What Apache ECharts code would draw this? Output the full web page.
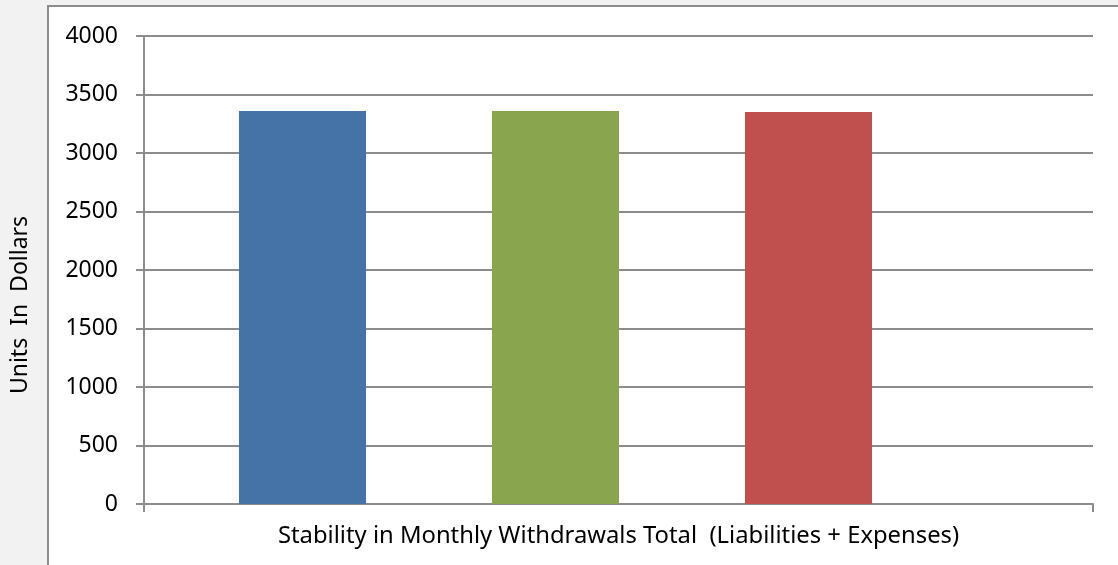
<!DOCTYPE html>
<html>
<head>
<meta charset="utf-8">
<script src="https://cdn.jsdelivr.net/npm/echarts@6/dist/echarts.min.js"></script>
<style>
  html, body { margin: 0; padding: 0; background: #f2f2f2; }
  #chart { width: 1118px; height: 565px; }
</style>
</head>
<body>
<div id="chart"></div>
<script>
var categoryName = ['Stability in Monthly Withdrawals Total  (Liabilities + Expenses)'];
var barNames = ['Series 1', 'Series 2', 'Series 3'];
var barValues = [3360, 3360, 3350];
var barColors = ['#4572a7', '#89a54e', '#c0504d'];
var yTicks = [0, 500, 1000, 1500, 2000, 2500, 3000, 3500, 4000];
var yTitle = 'Units  In  Dollars';

var font = 'Noto Sans';

var chart = echarts.init(document.getElementById('chart'));

var option = {
    backgroundColor: '#f2f2f2',
    animation: false,
    graphic: [
        {
            type: 'rect',
            z: -10,
            shape: { x: 48, y: 6, width: 1080, height: 570 },
            style: { fill: '#ffffff', stroke: '#8c8c8c', lineWidth: 2 }
        },
        {
            type: 'text',
            x: 20,
            y: 305,
            rotation: Math.PI / 2,
            style: {
                text: yTitle,
                fill: '#000',
                font: '23px "Noto Sans"',
                align: 'center',
                verticalAlign: 'middle'
            }
        }
    ],
    grid: [
        { left: 144, right: 25, top: 36, bottom: 61, outerBoundsMode: 'none' },
        { left: 176, right: 183, top: 36, bottom: 61, outerBoundsMode: 'none' }
    ],
    xAxis: [
        {
            type: 'category',
            gridIndex: 0,
            data: categoryName,
            boundaryGap: true,
            axisLine: { lineStyle: { color: '#8c8c8c', width: 2 } },
            axisTick: { show: true, length: 8, lineStyle: { color: '#8c8c8c', width: 2 } },
            axisLabel: { color: '#000', fontFamily: font, fontSize: 23.8, margin: 20 }
        },
        {
            type: 'category',
            gridIndex: 1,
            data: barNames,
            show: false
        }
    ],
    yAxis: [
        {
            type: 'value',
            gridIndex: 0,
            min: yTicks[0],
            max: yTicks[yTicks.length - 1],
            interval: 500,
            axisLine: { show: true, lineStyle: { color: '#8c8c8c', width: 2 } },
            axisTick: { show: true, length: 8, lineStyle: { color: '#8c8c8c', width: 2 } },
            axisLabel: {
                color: '#000', fontFamily: font, fontSize: 23, margin: 26,
                formatter: function (v) { return String(v); }
            },
            splitLine: { lineStyle: { color: '#8c8c8c', width: 2 } }
        },
        {
            type: 'value',
            gridIndex: 1,
            min: yTicks[0],
            max: yTicks[yTicks.length - 1],
            show: false,
            splitLine: { show: false }
        }
    ],
    series: [
        {
            type: 'bar',
            xAxisIndex: 1,
            yAxisIndex: 1,
            barWidth: 127,
            data: barValues.map(function (v, i) {
                return { value: v, itemStyle: { color: barColors[i] } };
            })
        }
    ]
};

chart.setOption(option);
</script>
</body>
</html>
